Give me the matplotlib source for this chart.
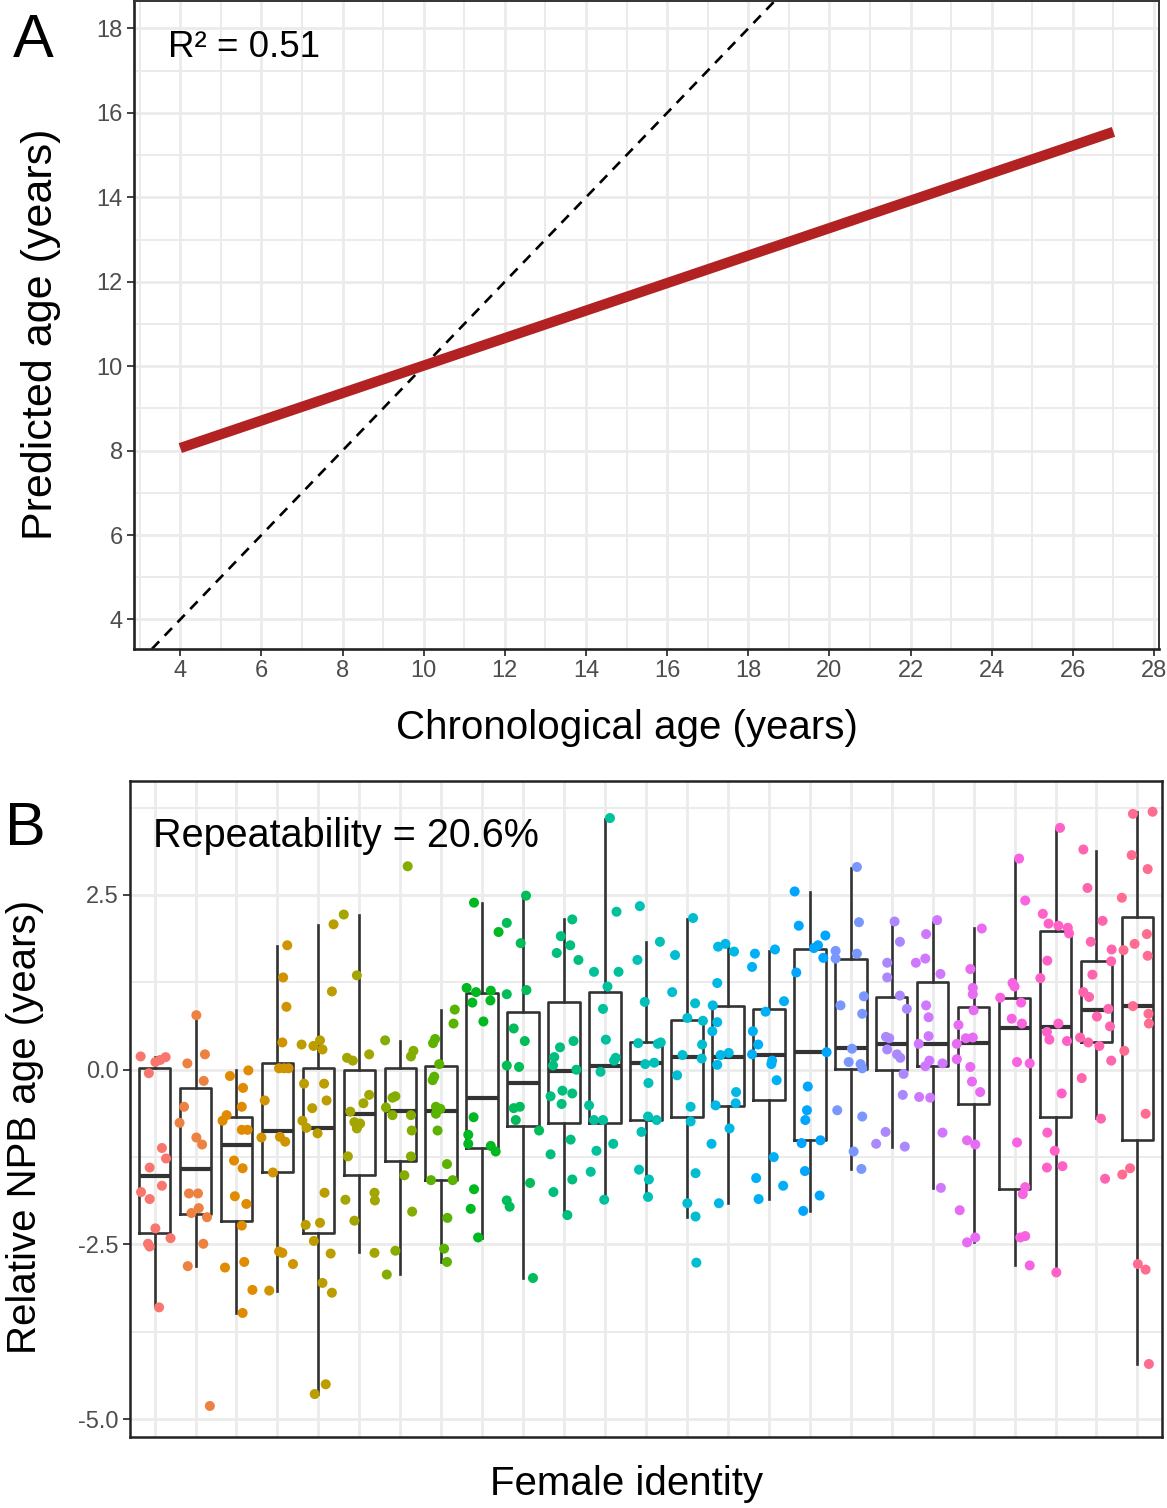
import math
import matplotlib
matplotlib.use("Agg")
import matplotlib.pyplot as plt
from matplotlib.ticker import MultipleLocator, FixedLocator, FormatStrFormatter, NullFormatter

plt.rcParams['font.family'] = ['Liberation Sans', 'DejaVu Sans']

# ---- panel A : fitted line (chronological vs predicted age)
fit_x = [4.0, 27.0]
fit_y = [8.06, 15.55]
r2_label = "R\u00b2 = 0.51"

# ---- panel B : relative NPB age per female (jitter offset, value)
jitter = [
    [-0.34, 0.02, 0.14, 0.27, -0.14, 0.18, 0.28, -0.12, -0.33, -0.12, 0.18, 0.02, -0.16, -0.12, 0.39, 0.11],
    [0.02, 0.23, -0.2, 0.2, -0.28, -0.39, 0.02, 0.16, -0.16, 0.06, 0.08, -0.1, 0.28, 0.19, -0.19, 0.35],
    [-0.16, 0.29, 0.16, 0.13, -0.24, -0.34, 0.13, 0.27, -0.06, 0.15, -0.04, 0.24, 0.13, -0.28, 0.19, 0.39, 0.15],
    [0.24, 0.14, 0.22, 0.12, 0.04, 0.16, 0.27, -0.31, -0.39, 0.06, 0.19, -0.11, 0.04, 0.12, 0.38, -0.2],
    [0.37, 0.33, -0.41, -0.12, 0.04, 0.1, -0.35, 0.14, 0.2, -0.15, -0.39, -0.29, -0.02, 0.15, -0.31, 0.04, -0.11, 0.3, 0.1, 0.33, -0.09, 0.18],
    [-0.38, -0.06, -0.3, -0.16, 0.24, 0.24, 0.1, -0.22, -0.12, -0.06, 0.02, -0.28, 0.37, 0.38, -0.34, -0.12, 0.37],
    [0.18, -0.37, 0.32, 0.26, -0.19, -0.12, -0.35, -0.19, 0.26, 0.28, 0.26, 0.1, 0.29, -0.12, -0.33],
    [0.33, 0.30, -0.15, -0.2, -0.05, -0.17, -0.21, -0.13, -0.02, -0.13, -0.09, 0.14, -0.25, 0.28, 0.15, 0.07, 0.14],
    [-0.2, 0.4, -0.38, -0.15, 0.21, -0.24, 0.2, 0.03, -0.21, -0.34, -0.34, 0.21, 0.33, -0.2, -0.28, -0.1],
    [0.07, -0.4, -0.06, -0.4, 0.08, -0.23, 0.04, -0.4, -0.1, -0.23, -0.08, -0.18, 0.39, 0.17, -0.4, -0.33, 0.24],
    [0.2, -0.08, -0.18, 0.15, 0.35, 0.23, -0.1, -0.24, -0.27, 0.3, -0.04, 0.2, -0.33, -0.06, 0.16, -0.33, 0.2, -0.26, 0.08],
    [0.12, 0.28, -0.27, 0.33, 0.06, -0.05, 0.02, 0.26, 0.22, -0.11, -0.39, -0.27, -0.05, 0.2, -0.21, -0.35, -0.02],
    [-0.15, 0.34, -0.21, -0.03, -0.19, 0.29, 0.36, 0.2, -0.02, 0.06, 0.05, 0.26, -0.11, -0.17, 0.07, 0.05],
    [0.15, -0.29, -0.36, 0.2, 0.01, 0.39, 0.37, -0.11, 0.36, -0.24, 0.09, 0.09, 0.21, 0.01, 0.21, 0.23],
    [-0.24, -0.06, 0.15, -0.26, -0.37, -0.26, -0.38, -0.18, 0.02, -0.26, 0.2, -0.3, 0.19, 0.04, -0.4, -0.22],
    [-0.34, 0.15, -0.41, 0.37, -0.08, -0.39, -0.26, -0.41, 0.08, 0.06, 0.19, 0.12, -0.31, 0.35, -0.25],
    [-0.37, -0.27, 0.38, 0.2, 0.1, 0.33, -0.33, 0.41, -0.05, -0.07, -0.11, -0.2, 0.26, -0.12, 0.24, -0.16],
    [0.15, 0.2, -0.37, -0.37, 0.15, 0.32, -0.25, 0.28, 0.03, -0.05, 0.24, 0.28, -0.33, 0.28, 0.07, 0.26],
    [0.07, 0.2, -0.11, -0.11, 0.2, 0.37, -0.14, -0.06, -0.11, 0.13, 0.21, 0.29, 0.27, -0.15, -0.38, 0.32],
    [0.11, -0.16, -0.18, -0.41, 0.19, -0.16, -0.1, -0.1, -0.34, -0.08, -0.18, 0.24, -0.33, -0.06, 0.24, 0.2],
    [0.2, -0.08, -0.02, -0.02, 0.0, -0.37, -0.41, -0.19, -0.02, -0.41, -0.08, -0.04, 0.16, -0.16, 0.04, -0.34, -0.16, 0.04],
    [0.11, 0.26, -0.05, 0.0, -0.35, 0.16, -0.07, 0.18, 0.06, 0.37, 0.06, 0.26, 0.2, 0.14, 0.26, 0.37],
    [0.11, -0.31, -0.17, 0.07, 0.3, 0.33, -0.2, -0.37, -0.21, -0.15, 0.07, 0.28, 0.15, -0.2, -0.02, -0.21, 0.17, 0.02],
    [-0.32, -0.22, 0.15, -0.14, 0.37, 0.36, -0.1, -0.32, -0.18, 0.01, 0.29, 0.33, -0.4, -0.2, 0.07, 0.36, -0.36, 0.11, 0.21],
    [-0.11, 0.37, -0.14, 0.25, -0.38, 0.23, -0.07, -0.34, 0.25, -0.11, 0.27, 0.28, -0.32, 0.2, -0.37, -0.18, 0.01, 0.2, 0.28],
]
npb_age = [
    [0.19, 0.11, 0.14, 0.18, -0.05, -1.12, -1.27, -1.40, -1.75, -1.85, -1.66, -2.27, -2.49, -2.53, -2.41, -3.40],
    [0.78, 0.22, 0.09, -0.16, -0.53, -0.76, -0.97, -1.07, -1.77, -1.77, -1.98, -2.05, -2.11, -2.49, -2.81, -4.81],
    [-0.09, -0.01, -0.26, -0.53, -0.65, -0.73, -0.86, -0.86, -1.30, -1.41, -1.81, -1.92, -2.23, -2.83, -2.75, -3.15, -3.48],
    [1.78, 1.32, 0.90, 0.39, 0.02, 0.02, 0.02, -0.44, -0.97, -0.96, -1.03, -1.47, -2.60, -2.62, -2.78, -3.16],
    [2.08, 1.12, 0.36, 0.34, 0.42, 0.29, -0.20, -0.20, -0.44, -0.55, -0.73, -0.83, -0.91, -1.76, -2.22, -2.19, -2.45, -2.63, -3.05, -3.19, -4.64, -4.50],
    [2.22, 1.35, 0.17, 0.13, 0.22, -0.36, -0.48, -0.60, -0.75, -0.84, -0.77, -1.24, -1.76, -1.87, -1.86, -2.16, -2.62],
    [2.91, 0.42, 0.27, 0.19, -0.40, -0.38, -0.54, -0.65, -0.65, -0.87, -1.24, -1.51, -2.03, -2.59, -2.93],
    [0.86, 0.66, 0.44, 0.38, 0.08, -0.10, -0.15, -0.53, -0.56, -0.63, -0.87, -1.35, -1.58, -1.58, -2.12, -2.56, -2.75],
    [2.39, 1.97, 1.17, 1.11, 1.13, 0.96, 0.99, 0.69, -0.68, -0.93, -1.06, -1.09, -1.17, -1.71, -1.99, -2.40],
    [2.49, 2.10, 1.81, 1.08, 1.14, 0.59, 0.41, 0.06, 0.04, -0.55, -0.53, -0.72, -0.87, -1.62, -1.87, -1.96, -2.98],
    [2.15, 1.91, 1.67, 1.78, 1.57, 0.41, 0.32, 0.18, 0.06, 0.0, -0.30, -0.34, -0.38, -0.49, -1.0, -1.21, -1.57, -1.75, -2.08],
    [3.60, 2.26, 1.40, 1.40, 1.19, 0.87, 0.43, 0.17, 0.13, -0.03, -0.51, -0.72, -0.72, -1.06, -1.16, -1.46, -1.86],
    [2.34, 1.83, 1.57, 0.97, 0.38, 0.37, 0.39, 0.10, 0.08, -0.19, -0.67, -0.72, -0.89, -1.43, -1.57, -1.82],
    [2.17, 1.64, 1.11, 0.95, 0.74, 0.70, 0.36, 0.21, 0.16, -0.08, -0.53, -0.74, -1.48, -1.91, -2.10, -2.76],
    [1.76, 1.80, 1.69, 1.24, 0.92, 0.68, 0.55, 0.21, 0.24, 0.07, -0.32, -0.51, -0.48, -0.84, -1.06, -1.91],
    [1.66, 1.72, 1.47, 0.98, 0.83, 0.55, 0.36, 0.22, 0.13, 0.08, -0.15, -1.25, -1.55, -1.66, -1.85],
    [2.55, 2.06, 1.92, 1.78, 1.74, 1.60, 1.39, 0.25, -0.24, -0.58, -0.72, -1.05, -1.01, -1.45, -1.80, -2.02],
    [2.90, 2.11, 1.70, 1.59, 1.66, 1.05, 0.92, 0.80, 0.30, 0.11, 0.08, 0.02, -0.58, -0.67, -1.17, -1.42],
    [2.12, 1.83, 1.53, 1.32, 1.06, 0.87, 0.47, 0.45, 0.29, 0.22, 0.17, -0.06, -0.36, -0.89, -1.06, -1.10],
    [2.14, 1.94, 1.59, 1.53, 1.37, 0.92, 0.75, 0.48, 0.37, 0.13, 0.05, 0.09, -0.39, -0.40, -0.90, -1.69],
    [2.02, 1.44, 1.17, 1.08, 0.85, 0.64, 0.37, 0.45, 0.46, 0.15, 0.04, -0.17, -0.32, -1.01, -1.07, -2.01, -2.47, -2.40],
    [3.02, 2.42, 1.24, 1.19, 1.03, 0.96, 0.73, 0.66, 0.11, 0.09, -1.04, -1.68, -1.78, -2.40, -2.38, -2.80],
    [3.46, 2.23, 2.09, 2.06, 2.03, 1.95, 1.56, 1.31, 0.54, 0.43, 0.66, 0.41, -0.34, -0.90, -1.16, -1.40, -1.38, -2.90],
    [3.15, 2.60, 2.13, 1.83, 1.72, 1.55, 1.36, 1.11, 1.04, 0.76, 0.87, 0.62, 0.46, 0.39, 0.34, 0.13, -0.12, -0.70, -1.56],
    [3.66, 3.69, 3.07, 2.87, 2.46, 1.94, 1.80, 1.71, 1.63, 0.91, 0.80, 0.66, 0.27, -0.63, -1.50, -1.41, -2.78, -2.86, -4.21],
]

# box summaries
box_q1 = [-2.335, -2.06, -2.16, -1.47, -2.34, -1.51, -1.31, -1.58, -1.12, -0.80, -0.76, -0.76, -0.72,
          -0.68, -0.52, -0.43, -1.01, 0.01, 0.0, 0.05, -0.49, -1.71, -0.68, 0.39, -1.01]
box_med = [-1.52, -1.42, -1.08, -0.88, -0.83, -0.63, -0.59, -0.59, -0.40, -0.19, -0.02, 0.05, 0.09,
           0.18, 0.18, 0.21, 0.25, 0.31, 0.37, 0.37, 0.38, 0.59, 0.61, 0.86, 0.91]
box_q3 = [0.026, -0.26, -0.67, 0.09, 0.03, 0.0, 0.02, 0.05, 1.10, 0.83, 0.97, 1.11, 0.39,
          0.71, 0.91, 0.87, 1.73, 1.59, 1.04, 1.25, 0.90, 1.02, 1.98, 1.55, 2.19]
whisk_lo = [-3.38, -2.81, -3.48, -3.17, -4.64, -2.61, -2.92, -2.75, -2.41, -2.98, -2.07, -1.87, -1.82,
            -2.10, -1.91, -1.85, -2.02, -1.42, -1.10, -1.69, -2.47, -2.80, -2.90, -0.69, -4.21]
whisk_hi = [0.18, 0.78, -0.01, 1.77, 2.07, 2.22, 0.41, 0.86, 2.38, 2.49, 2.15, 3.59, 1.83,
            2.15, 1.78, 1.70, 2.54, 2.89, 2.11, 2.12, 2.02, 3.01, 3.45, 3.13, 3.69]
repeat_label = "Repeatability = 20.6%"


def hue_colour(h, c=100.0, l=65.0):
    # ggplot2 default discrete palette (hcl -> sRGB)
    hr = math.radians(h)
    u, v = c * math.cos(hr), c * math.sin(hr)
    xn, yn, zn = 95.047, 100.0, 108.883
    un = 4 * xn / (xn + 15 * yn + 3 * zn)
    vn = 9 * yn / (xn + 15 * yn + 3 * zn)
    y = yn * ((l + 16) / 116) ** 3
    up = u / (13 * l) + un
    vp = v / (13 * l) + vn
    x = y * 9 * up / (4 * vp)
    z = y * (12 - 3 * up - 20 * vp) / (4 * vp)
    x, y, z = x / 100, y / 100, z / 100
    rgb = [3.240479 * x - 1.537150 * y - 0.498535 * z,
           -0.969256 * x + 1.875992 * y + 0.041556 * z,
           0.055648 * x - 0.204043 * y + 1.057311 * z]
    out = []
    for ch in rgb:
        ch = 1.055 * ch ** (1 / 2.4) - 0.055 if ch > 0.0031308 else 12.92 * ch
        out.append(min(max(ch, 0.0), 1.0))
    return tuple(out)


W, H = 1167, 1508
fig = plt.figure(figsize=(W / 100, H / 100), dpi=100)


def px_axes(left, top, right, bottom):
    return fig.add_axes([left / W, 1 - bottom / H, (right - left) / W, (bottom - top) / H])


grid_col = '#EBEBEB'
tick_col = '#4D4D4D'

# ---------------- panel A
axA = px_axes(134, 1, 1158.5, 649)
axA.set_xlim(2.86, 28.11)
axA.set_ylim(3.30, 18.65)
axA.xaxis.set_major_locator(MultipleLocator(2))
axA.xaxis.set_minor_locator(FixedLocator(list(range(3, 29, 2))))
axA.yaxis.set_major_locator(MultipleLocator(2))
axA.yaxis.set_minor_locator(FixedLocator(list(range(3, 19, 2))))
axA.grid(which='major', color=grid_col, lw=2.0)
axA.grid(which='minor', color=grid_col, lw=1.4)
axA.set_axisbelow(True)
axA.axline((0, 0), slope=1, color='black', lw=1.9, linestyle=(0, (4, 3)))
axA.plot(fit_x, fit_y, color='#B22222', lw=7.4, solid_capstyle='butt')
axA.tick_params(which='major', length=5, width=1.3, color='#333333', labelsize=17,
                labelcolor=tick_col, pad=3)
axA.tick_params(which='minor', length=0)
for side in ['top', 'right']:
    axA.spines[side].set_color('#333333')
    axA.spines[side].set_linewidth(1.4)
for side in ['left', 'bottom']:
    axA.spines[side].set_color('#222222')
    axA.spines[side].set_linewidth(1.9)

# ---------------- panel B
axB = px_axes(130, 781, 1162, 1436.7)
axB.set_xlim(0.4, 25.6)
axB.set_ylim(-5.25, 4.13)
positions = list(range(1, len(npb_age) + 1))
axB.xaxis.set_major_locator(FixedLocator(positions))
axB.xaxis.set_major_formatter(NullFormatter())
axB.yaxis.set_major_locator(FixedLocator([-5, -2.5, 0, 2.5]))
axB.yaxis.set_minor_locator(FixedLocator([-3.75, -1.25, 1.25, 3.75]))
axB.yaxis.set_major_formatter(FormatStrFormatter('%.1f'))
axB.grid(which='major', color=grid_col, lw=2.0)
axB.grid(which='minor', color=grid_col, lw=1.4)
axB.set_axisbelow(True)
axB.tick_params(axis='x', which='both', length=0)
axB.tick_params(axis='y', which='major', length=5, width=1.3, color='#333333', labelsize=17,
                labelcolor=tick_col, pad=3)
axB.tick_params(axis='y', which='minor', length=0)
for side in axB.spines:
    axB.spines[side].set_color('#222222')
    axB.spines[side].set_linewidth(1.8)

stats = []
for i in range(len(npb_age)):
    stats.append({'med': box_med[i], 'q1': box_q1[i], 'q3': box_q3[i],
                  'whislo': whisk_lo[i], 'whishi': whisk_hi[i], 'fliers': []})
line_kw = dict(color='#333333', linewidth=1.9)
axB.bxp(stats, positions=positions, widths=0.77, showfliers=False, showcaps=False,
        boxprops=line_kw, whiskerprops=line_kw,
        medianprops=dict(color='#333333', linewidth=3.0), manage_ticks=False, zorder=2)

n = len(npb_age)
for i, (offs, vals) in enumerate(zip(jitter, npb_age)):
    col = hue_colour(15 + 360.0 * i / n)
    xs = [positions[i] + o for o in offs]
    axB.scatter(xs, vals, s=52, color=col, edgecolors='none', zorder=3)

# ---------------- text
fig.text(13 / W, 1 - 57 / H, 'A', fontsize=44, ha='left', va='baseline')
fig.text(5 / W, 1 - 845 / H, 'B', fontsize=44, ha='left', va='baseline')
fig.text(168 / W, 1 - 57 / H, r2_label, fontsize=26.5, ha='left', va='baseline')
fig.text(153 / W, 1 - 847 / H, repeat_label, fontsize=28.5, ha='left', va='baseline')
fig.text(627 / W, 1 - 739 / H, 'Chronological age (years)', fontsize=29, ha='center', va='baseline')
fig.text(41.5 / W, 1 - 334 / H, 'Predicted age (years)', fontsize=31, rotation=90,
         ha='center', va='center')
fig.text(627 / W, 1 - 1495 / H, 'Female identity', fontsize=29, ha='center', va='baseline')
fig.text(25 / W, 1 - 1127 / H, 'Relative NPB age (years)', fontsize=29, rotation=90,
         ha='center', va='center')

fig.savefig('out.png', dpi=100)
